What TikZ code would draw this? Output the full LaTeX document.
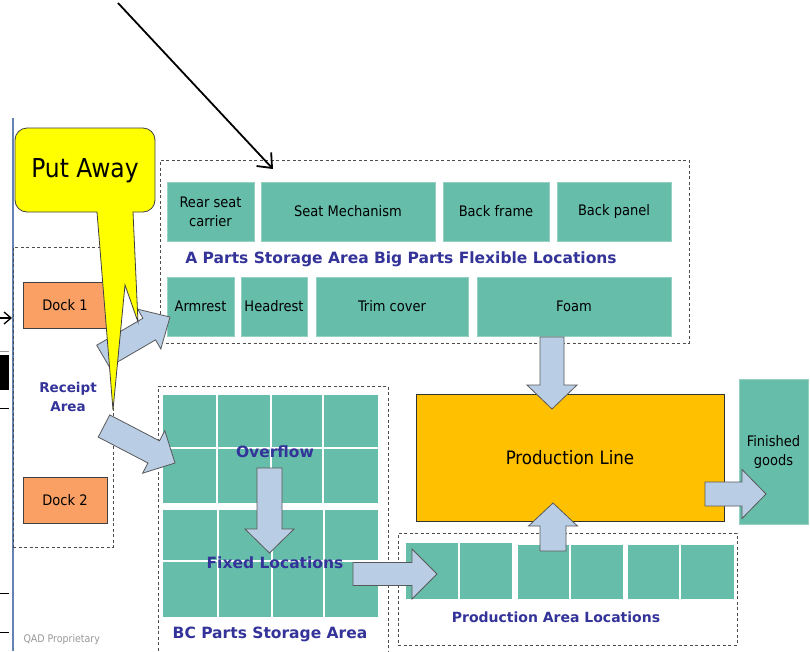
\documentclass[tikz,border=0pt]{standalone}
\usepackage{fontspec}
\setmainfont{DejaVu Sans Condensed}
\newfontfamily\widefont{DejaVu Sans}
\usetikzlibrary{arrows.meta, calc}

\definecolor{partteal}{RGB}{102,190,170}
\definecolor{dockorange}{RGB}{250,160,100}
\definecolor{lineorange}{RGB}{255,192,0}
\definecolor{arrowblue}{RGB}{185,205,229}
\definecolor{labelblue}{RGB}{51,51,153}
\definecolor{edgeblue}{RGB}{100,130,180}
\definecolor{calloutyellow}{RGB}{255,255,0}

\tikzset{
  part/.style={fill=partteal, draw=partteal!70!white, line width=0.6pt, inner sep=0pt, align=center,
    font=\fontsize{14.5}{19}\selectfont},
  zone/.style={draw=black!70, dash pattern=on 3pt off 2.5pt, line width=0.9pt, inner sep=0pt},
  dock/.style={fill=dockorange, draw=black!75, line width=0.8pt, font=\fontsize{14.5}{19}\selectfont},
  arealabel/.style={text=labelblue, align=center, inner sep=0pt, font=\widefont\bfseries\fontsize{15.5}{19}\selectfont},
  gridline/.style={white, line width=1.5pt},
  blockarr/.style={fill=arrowblue, draw=black!65, line width=0.8pt},
  callout/.style={fill=calloutyellow, draw=black!75, line width=0.8pt},
}

% block arrow: from, to, half shaft, half head, head length
\newcommand{\blockarrow}[5]{%
  \draw[blockarr] let \p1=(#1), \p2=(#2),
    \n1={atan2(\y2-\y1,\x2-\x1)}, \n2={veclen(\x2-\x1,\y2-\y1)} in
    [shift={(\p1)}, rotate=\n1]
    (0pt,-#3pt) -- (\n2-#5pt,-#3pt) -- (\n2-#5pt,-#4pt) -- (\n2,0pt)
    -- (\n2-#5pt,#4pt) -- (\n2-#5pt,#3pt) -- (0pt,#3pt) -- cycle;}

\begin{document}
\begin{tikzpicture}[x=1pt, y=-1pt]
  \useasboundingbox[fill=white] (0,0) rectangle (810,651);

  % left edge of the slide
  \draw[edgeblue, line width=2pt] (13,118) -- (13,651);
  \fill[black] (0,355) rectangle (9,390);
  \draw[black!40, line width=1pt] (0,351) -- (9,351);
  \draw[black, line width=0.8pt] (0,408) -- (9,408);
  \draw[black, line width=0.8pt] (0,593) -- (9,593);
  \draw[black, line width=0.8pt] (0,632) -- (9,632);
  \coordinate (inL) at (0,318);
  \coordinate (inR) at (12,318);
  \draw[-{Straight Barb[length=7pt, width=12pt]}, line width=1.3pt] (inL) -- (inR);
  \node[text=black!40, font=\fontsize{10.5}{12}\selectfont, anchor=west] (qad) at (20,640) {QAD Proprietary};

  % receipt area
  \node[zone, minimum width=100, minimum height=300] (receipt) at (63,397) {};
  \node[dock, minimum width=84, minimum height=46] (dock1) at (65,305) {Dock 1};
  \node[dock, minimum width=84, minimum height=46] (dock2) at (65,500) {Dock 2};
  \node[arealabel, font=\widefont\bfseries\fontsize{13.5}{19}\selectfont] (reclabel) at (68,397) {Receipt\\Area};

  % A parts storage area
  \node[zone, minimum width=529, minimum height=183] (azone) at (424.5,251.5) {};
  \node[part, minimum width=87, minimum height=59] (rear) at (210.5,211.5) {Rear seat\\carrier};
  \node[part, minimum width=174, minimum height=59] (seat) at (348,211.5) {Seat Mechanism};
  \node[part, minimum width=106, minimum height=59] (bframe) at (496,211.5) {Back frame};
  \node[part, minimum width=114, minimum height=59] (bpanel) at (614,211.5) {Back panel};
  \node[arealabel] (alabel) at (401,259) {A Parts Storage Area Big Parts Flexible Locations};
  \node[part, minimum width=67, minimum height=59] (arm) at (200.5,306.5) {Armrest};
  \node[part, minimum width=66, minimum height=59] (headr) at (274,306.5) {Headrest};
  \node[part, minimum width=152, minimum height=59] (trim) at (392,306.5) {Trim cover};
  \node[part, minimum width=194, minimum height=59] (foam) at (574,306.5) {Foam};

  % BC parts storage area
  \node[zone, minimum width=230, minimum height=274] (bczone) at (273,523) {};
  \node[part, draw=none, minimum width=215, minimum height=108] (ovf) at (270.5,449) {};
  \node[part, draw=none, minimum width=215, minimum height=107] (fixed) at (270.5,563.5) {};
  \foreach \gx in {217,271,323} \draw[gridline] (\gx,395) -- (\gx,503);
  \draw[gridline] (163,448) -- (378,448);
  \foreach \gx in {218,272,324} \draw[gridline] (\gx,510) -- (\gx,617);
  \draw[gridline] (163,561) -- (378,561);
  \node[arealabel] (ovflabel) at (275,452) {Overflow};
  \node[arealabel] (fixlabel) at (275,563) {Fixed Locations};
  \node[arealabel] (bclabel) at (270,634) {BC Parts Storage Area};

  % production
  \node[fill=lineorange, draw=black!80, line width=0.8pt, minimum width=308, minimum height=127,
    font=\fontsize{18.5}{22}\selectfont] (pline) at (570,457.5) {Production Line};
  \node[part, minimum width=69, minimum height=145] (finished) at (773.5,451.5) {Finished\\goods};
  \node[zone, minimum width=339, minimum height=112] (pzone) at (567.5,589) {};
  \node[part, draw=none, minimum width=106, minimum height=56] (pa1) at (459,571) {};
  \node[part, draw=none, minimum width=105, minimum height=54] (pa2) at (570.5,572) {};
  \node[part, draw=none, minimum width=106, minimum height=54] (pa3) at (681,572) {};
  \draw[gridline] (459,543) -- (459,599);
  \draw[gridline] (570,545) -- (570,599);
  \draw[gridline] (680,545) -- (680,599);
  \node[arealabel, font=\widefont\bfseries\fontsize{14}{19}\selectfont] (palabel) at (556,617) {Production Area Locations};

  % flow arrows
  \coordinate (toA-s) at (103,356);
  \coordinate (toA-e) at (170,317);
  \coordinate (toBC-s) at (104,426);
  \coordinate (toBC-e) at (175,463);
  \coordinate (ovf-s) at (269.5,468);
  \coordinate (ovf-e) at (269.5,553);
  \coordinate (fix-s) at (353,574);
  \coordinate (fix-e) at (437,574);
  \coordinate (foam-s) at (552,337);
  \coordinate (foam-e) at (552,409);
  \coordinate (pa-s) at (553,551);
  \coordinate (pa-e) at (553,503);
  \coordinate (fg-s) at (705,494);
  \coordinate (fg-e) at (766,494);
  \blockarrow{toA-s}{toA-e}{12.5}{23}{24}
  \blockarrow{toBC-s}{toBC-e}{12.5}{24}{24}
  \blockarrow{ovf-s}{ovf-e}{12.5}{24.5}{24}
  \blockarrow{fix-s}{fix-e}{11.5}{25}{25}
  \blockarrow{foam-s}{foam-e}{12}{25}{24}
  \blockarrow{pa-s}{pa-e}{13}{24.5}{23}
  \blockarrow{fg-s}{fg-e}{12}{24.5}{24}

  % put away callout
  \draw[callout] (97,212) [rounded corners=12pt] -- (15,212) -- (15,128) -- (155,128) -- (155,212)
    [sharp corners] -- (133,212) -- (138,322) -- (125,285) -- (113,410) -- cycle;
  \node[font=\fontsize{26}{30}\selectfont] (putaway) at (85,171) {Put Away};

  % pointer
  \coordinate (ptr-s) at (118,3);
  \coordinate (ptr-e) at (273,169);
  \draw[-{Straight Barb[length=12pt, width=20pt]}, line width=1.8pt] (ptr-s) -- (ptr-e);
\end{tikzpicture}
\end{document}
